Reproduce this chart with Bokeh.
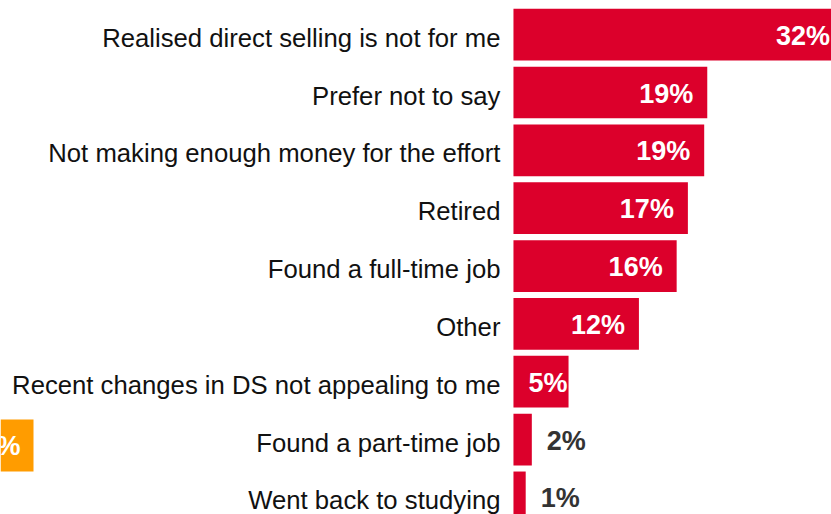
from bokeh.plotting import figure
from bokeh.models import ColumnDataSource, Range1d, BoxAnnotation, Label
from bokeh.core.properties import value
from bokeh.embed import file_html
from bokeh.resources import INLINE

categories = [
    "Realised direct selling is not for me",
    "Prefer not to say",
    "Not making enough money for the effort",
    "Retired",
    "Found a full-time job",
    "Other",
    "Recent changes in DS not appealing to me",
    "Found a part-time job",
    "Went back to studying",
]
values = [32.4, 19.0, 18.7, 17.1, 16.0, 12.3, 5.4, 1.8, 1.2]
value_labels = ["32%", "19%", "19%", "17%", "16%", "12%", "5%", "2%", "1%"]

RED = "#DC002B"
FONT = "Liberation Sans"

ys = [-i for i in range(len(categories))]

p = figure(width=831, height=514, output_backend="svg", toolbar_location=None,
           x_range=Range1d(-50.29, 31.18), y_range=Range1d(-8.296, 0.591),
           min_border=0)
p.axis.visible = False
p.grid.visible = False
p.outline_line_color = None
p.background_fill_color = "white"
p.border_fill_color = "white"

p.hbar(y=ys, left=0, right=values, height=0.894, fill_color=RED, line_color=None)

p.text(x=[0] * len(ys), y=ys, text=categories, x_offset=-13, y_offset=3,
       text_align="right", text_baseline="middle",
       text_font=value(FONT), text_font_size="25.7px", text_color="#111111")

big = [i for i, v in enumerate(values) if v >= 8]
mid = [i for i, v in enumerate(values) if 3 <= v < 8]
small = [i for i, v in enumerate(values) if v < 3]

p.text(x=[values[i] for i in big], y=[ys[i] for i in big],
       text=[value_labels[i] for i in big], x_offset=-14, y_offset=1,
       text_align="right", text_baseline="middle", text_font=value(FONT),
       text_font_size="27px", text_font_style="bold", text_color="white")
p.text(x=[0 for i in mid], y=[ys[i] for i in mid],
       text=[value_labels[i] for i in mid], x_offset=15, y_offset=1,
       text_align="left", text_baseline="middle", text_font=value(FONT),
       text_font_size="27px", text_font_style="bold", text_color="white")
p.text(x=[values[i] for i in small], y=[ys[i] for i in small],
       text=[value_labels[i] for i in small], x_offset=15, y_offset=1,
       text_align="left", text_baseline="middle", text_font=value(FONT),
       text_font_size="27px", text_font_style="bold", text_color="#333333")

# clipped orange tag at left edge
p.add_layout(BoxAnnotation(left=0, right=33, top=514 - 419, bottom=514 - 471,
                           left_units="screen", right_units="screen",
                           top_units="screen", bottom_units="screen",
                           fill_color="#FF9C00", fill_alpha=1, line_color=None))
p.add_layout(Label(x=20, y=514 - 445, x_units="screen", y_units="screen", text="%",
                   text_align="right", text_baseline="middle", text_font=FONT,
                   text_font_size="27px", text_font_style="bold", text_color="white"))

open("out.html", "w").write(file_html(p, INLINE))
